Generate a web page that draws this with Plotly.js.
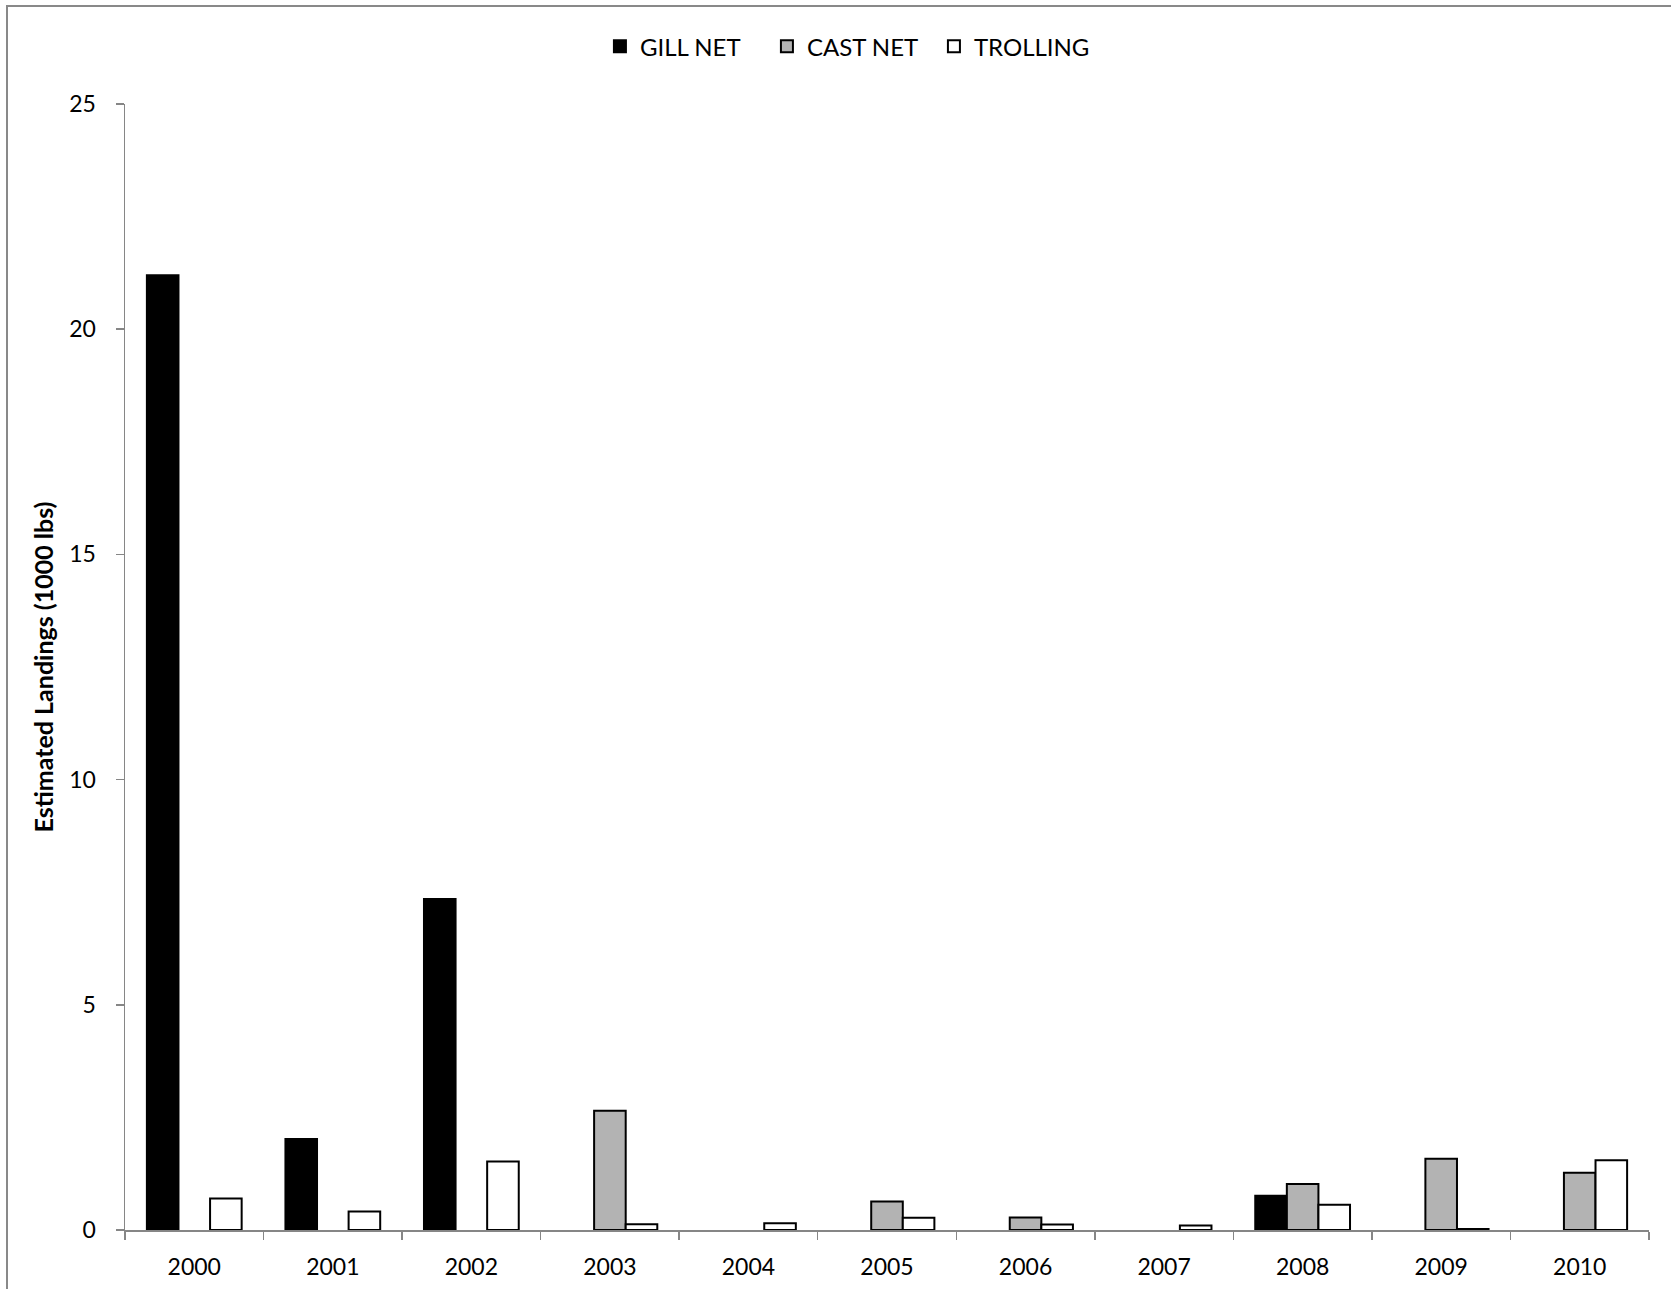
<!DOCTYPE html>
<html>
<head>
<meta charset="utf-8">
<script src="https://cdn.plot.ly/plotly-3.0.1.min.js"></script>
<style>
  html, body { margin: 0; padding: 0; background: #fff; overflow: hidden; }
  #chart { position: absolute; left: 0; top: 0; width: 1671px; height: 1289px; }
  #frame { position: absolute; left: 6px; top: 5px; width: 1700px; height: 1320px;
           border: 2px solid #898989; pointer-events: none; box-sizing: border-box; }
</style>
</head>
<body>
<div id="chart"></div>
<div id="frame"></div>
<script>
// ---- data (thousand lbs); 0 = no landings, drawn as no bar ----
var years    = ["2000","2001","2002","2003","2004","2005","2006","2007","2008","2009","2010"];
var gillNet  = [21.2, 2.02, 7.35, 0,    0,    0,    0,    0,    0.76, 0,    0];
var castNet  = [0,    0,    0,    2.65, 0,    0.63, 0.28, 0,    1.02, 1.58, 1.27];
var trolling = [0.70, 0.41, 1.52, 0.13, 0.15, 0.27, 0.12, 0.10, 0.56, 0.02, 1.55];
var yTicks   = [0, 5, 10, 15, 20, 25];

function noZero(arr) { return arr.map(function (v) { return v === 0 ? null : v; }); }

var FONT = "Lato, 'Open Sans', sans-serif";
var AXIS = "#868686";
var OUTLINE = {color: "#000000", width: 2};

var traces = [
  {type: "bar", name: "GILL NET", x: years, y: noZero(gillNet),
   marker: {color: "#000000", line: OUTLINE}},
  {type: "bar", name: "CAST NET", x: years, y: noZero(castNet),
   marker: {color: "#b3b3b3", line: OUTLINE}},
  {type: "bar", name: "TROLLING", x: years, y: noZero(trolling),
   marker: {color: "#ffffff", line: OUTLINE}}
];

var layout = {
  width: 1671, height: 1289,
  margin: {l: 125, r: 22, t: 104, b: 59, pad: 0},
  paper_bgcolor: "#ffffff", plot_bgcolor: "#ffffff",
  font: {family: FONT, size: 23, color: "#000000"},
  barmode: "group", bargap: 0.316, bargroupgap: 0,
  showlegend: true,
  legend: {orientation: "h", x: 0.476, xanchor: "center", y: 1.051, yanchor: "middle",
           entrywidth: 122, entrywidthmode: "pixels",
           font: {family: FONT, size: 24, color: "#000000"}, traceorder: "normal",
           bgcolor: "rgba(0,0,0,0)"},
  xaxis: {
    type: "category", tickson: "boundaries", ticks: "outside", ticklen: 8, tickwidth: 1.5,
    tickcolor: AXIS, showline: true, linecolor: AXIS, linewidth: 1.5,
    showgrid: false, zeroline: false, ticklabelstandoff: 16,
    tickfont: {family: FONT, size: 23, color: "#000000"}, fixedrange: true
  },
  yaxis: {
    range: [0, 25], tickmode: "array", tickvals: yTicks, ticktext: yTicks.map(String),
    ticks: "outside", ticklen: 8, tickwidth: 1.5, tickcolor: AXIS,
    showline: true, linecolor: AXIS, linewidth: 1.5, showgrid: false, zeroline: false,
    ticklabelstandoff: 15,
    tickfont: {family: FONT, size: 23, color: "#000000"},
    title: {text: "<b>Estimated Landings (1000 lbs)</b>", standoff: 8,
            font: {family: FONT, size: 25, color: "#000000"}},
    fixedrange: true
  }
};

Plotly.newPlot("chart", traces, layout, {displayModeBar: false, staticPlot: true});
</script>
</body>
</html>
